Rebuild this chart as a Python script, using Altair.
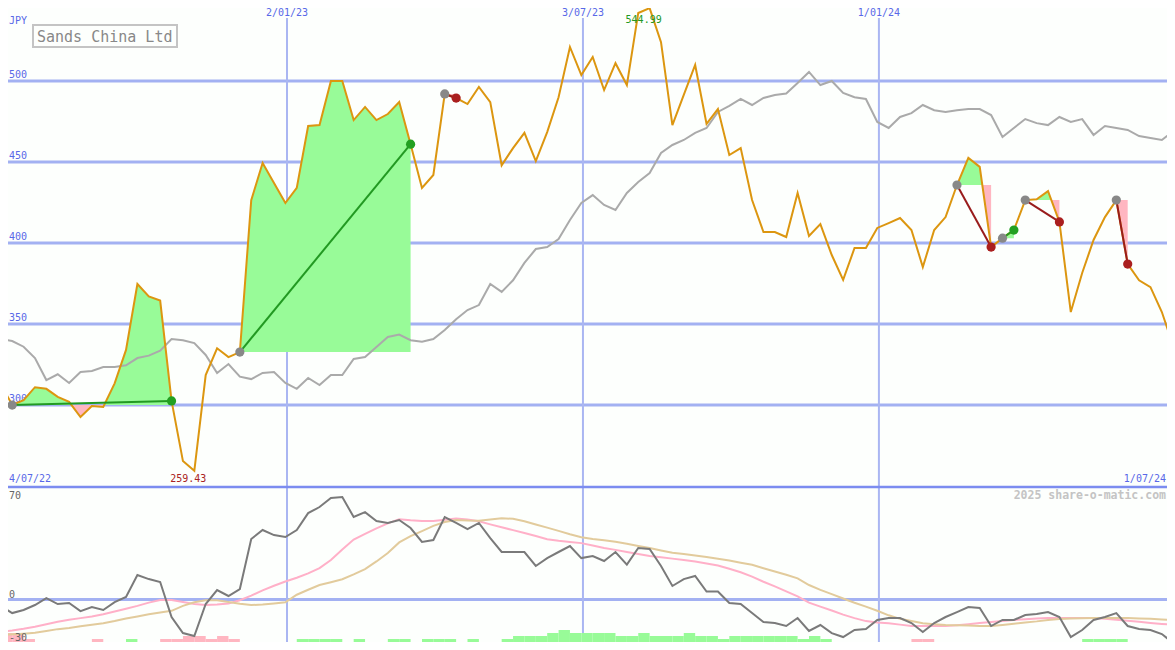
import altair as alt
import pandas as pd

# ---------------- data (weekly) ----------------
first_week = "2022-07-10"

price = [313, 300, 303, 311, 310, 305, 302, 292.6, 299.4, 298.8,
         313.4, 334, 374.7, 367, 364.5, 302.5, 265.4, 259.43, 318.5, 335,
         329.6, 332.7, 426.5, 449.4, 437, 424.7, 434, 472.2, 472.8, 500,
         500, 475.9, 484, 475.9, 479.6, 487, 461, 434, 442, 492,
         489.5, 485.8, 496.3, 487, 448, 458.6, 468, 450.6, 468.5, 490,
         521, 503.7, 514.8, 494.4, 511, 497.5, 542, 544.99, 524, 472.8,
         491.4, 509.9, 473.5, 482.7, 454.3, 458.6, 426.5, 406.8, 406.8, 403.7,
         430.9, 404.3, 411.7, 392.6, 377.2, 396.9, 396.9, 409.3, 412.3, 415.4,
         408, 385.2, 408, 416, 435.8, 452.5, 447, 397.5, 403, 408,
         426.5, 427, 432, 413, 357.4, 381.5, 401.9, 416, 426.5, 387,
         377, 372.8, 357.4, 336.4]

moving_avg = [340.7, 339.5, 336, 329, 315.4, 319, 313.6, 320.4, 321, 323.5,
              323.5, 324.5, 329, 330.5, 333.5, 340.7, 340, 338.2, 330.9, 319.8,
              325.3, 317.5, 316, 319.8, 320.4, 313.6, 310, 316.7, 312.3, 318.5,
              318.5, 328.4, 329.6, 335.8, 342, 343.5, 340, 339, 340.7, 346.3,
              353, 358.6, 361.7, 374.7, 369.8, 377, 387.7, 396.3, 397.5, 402.5,
              414.2, 424.7, 429.6, 423.5, 420.4, 430.9, 437.7, 443.2, 455.6, 460.5,
              463.6, 468, 471, 480.9, 484.6, 488.9, 485.2, 489.5, 491.4, 492.3,
              498.8, 505.6, 497.5, 500, 492.6, 490, 488.9, 474.7, 471, 477.8,
              480.2, 485.2, 482, 480.9, 482, 482.7, 482.7, 479, 465.4, 471,
              476.5, 474, 472.8, 477.8, 474.7, 476.5, 466.7, 472.2, 471, 469.8,
              466, 464.8, 463.6, 469]

momentum = [-4.6, -9.6, -7.4, -3.9, 1, -3.2, -2.5, -8.2, -5.3, -7.4,
            -1.8, 1.8, 17.4, 14.5, 12.4, -12.4, -23.8, -25.9, -3.2, 6.7,
            2.5, 7.4, 42.9, 49.3, 45.7, 44.3, 49.3, 61.3, 65.6, 72,
            72.7, 58.5, 62, 55.7, 54.3, 56.4, 50.7, 40.8, 42.2, 58.5,
            54.3, 50, 54.3, 43.6, 33.7, 33.7, 33.7, 23.8, 29.4, 33.7,
            37.9, 29.4, 30.8, 27.3, 33.7, 24.8, 36.5, 35.8, 23.8, 9.6,
            14.5, 16.7, 5.7, 5.7, -2.5, -3.2, -9.6, -16, -16.7, -18.8,
            -13.1, -22.3, -18.1, -23.8, -26.6, -21.6, -20.9, -14.5, -13.1, -13.1,
            -16.7, -23, -16.7, -12.4, -8.9, -5.3, -6, -18.8, -14.5, -14.5,
            -11, -10.3, -8.9, -12.4, -26.6, -21.6, -14.5, -12.4, -9.6, -18.8,
            -20.9, -21.6, -24.5, -30.9]

signal_fast = [-23, -22, -20.8, -19.3, -17.5, -15.8, -14.3, -13.2, -12, -10.5,
               -8.5, -6.5, -4.5, -2.2, -0.4, -0.4, -1.8, -3.2, -3.9, -3.6,
               -2.8, -0.5, 2.8, 6.5, 9.8, 12.8, 15.4, 18.5, 22.3, 28,
               35.5, 42.5, 46.5, 50.5, 54, 57, 56.2, 55.7, 55.7, 56.5,
               57.5, 56.8, 55.5, 53.3, 51.2, 49.2, 47.2, 45, 42.8, 41.6,
               40.8, 40, 38.3, 36.6, 35.2, 33.7, 32.3, 30.9, 30, 29,
               28, 27, 25.6, 24.1, 21.8, 19.3, 16.2, 12.6, 9.3, 5.8,
               2.3, -2.2, -5, -7.8, -10.7, -13.2, -15.3, -16.3, -16.8, -17.8,
               -18.7, -18.8, -18.8, -18.8, -18.2, -17.5, -16.7, -16, -15.2, -14.5,
               -14, -13.5, -13.1, -13.1, -13.1, -13.1, -13.1, -13.6, -14.3, -15,
               -15.8, -16.6, -17.3, -18]

signal_slow = [-25.2, -24.7, -24.2, -23.6, -22.3, -21, -20.2, -19, -17.9, -16.8,
               -15.3, -13.5, -12, -10.5, -9.2, -8, -4.5, -2, -0.5, -0.6,
               -1.8, -3, -3.9, -3.5, -2.8, -2, 3.4, 6.9, 10.3, 12.3,
               14.4, 17.8, 21.6, 27, 33, 40.5, 45, 48.5, 52.2, 55,
               56.4, 56, 55.8, 56.8, 57.7, 57.2, 55.5, 53.2, 51, 48.7,
               46.3, 44.2, 43, 42, 40.9, 39.5, 38, 36.5, 34.8, 33.1,
               32.2, 31.3, 30.2, 28.9, 27.7, 26.1, 24.6, 22.2, 19.9, 17.6,
               15, 10.3, 6.8, 3.8, 0.7, -2.3, -5, -8, -11.2, -13.7,
               -15.3, -16.8, -17.5, -18.1, -18.3, -18.5, -18.7, -18.8, -18, -17.2,
               -16.3, -15.5, -14.5, -13.8, -13.5, -13.2, -13.1, -13.1, -13.1, -13.1,
               -13.4, -13.7, -14.1, -14.5]

# signed strength of the weekly signal bars (+ green, - pink)
signal_bars = [-3, -3, -1, 0, 0, 0, 0, 0, -1, 0,
               0, 1, 0, 0, -1, -1, -2, -2, -1, -2,
               -1, 0, 0, 0, 0, 0, 1, 1, 1, 1,
               0, 1, 0, 0, 1, 1, 0, 1, 1, 1,
               0, 1, 0, 0, 1, 2, 2, 2, 3, 4,
               3, 3, 3, 3, 2, 2, 3, 2, 2, 2,
               3, 2, 2, 1, 2, 2, 2, 2, 2, 2,
               1, 2, 1, 0, 0, 0, 0, 0, 0, 0,
               -1, -1, 0, 0, 0, 0, 0, 0, 0, 0,
               0, 0, 0, 0, 0, 1, 1, 1, 1, 0,
               0, 0, 0, 0]

entry_week = [1, 21, 39, 84, 88, 90, 98]
exit_week = [15, 36, 40, 87, 89, 93, 99]

price_ticks = [300, 350, 400, 450, 500]
date_ticks = ["2023-01-02", "2023-07-03", "2024-01-01"]
date_tick_labels = ["2/01/23", "3/07/23", "1/01/24"]
first_label, last_label = "4/07/22", "1/07/24"
title = "Sands China Ltd"
currency = "JPY"
credit = "2025 share-o-matic.com"

# ---------------- layout / style ----------------
# One layered 1175x650 plot; autosize "none" + negative padding cancels the
# page's 8px body margin so the chart lines up with the window pixel for pixel.
W, H = 1175, 650
SPLIT = 487          # boundary between price panel and indicator panel
MARGIN = 8
VISIBLE_BOTTOM = H - MARGIN
VISIBLE_RIGHT = W - MARGIN

BG = "#fdfffd"
GRID = "#a3b1f2"
VGRID = "#aab6f2"
SEP = "#7c8cf0"
LBL = "#5868e8"
MONO = "DejaVu Sans Mono"
PRICE_C = "#dc9610"
MA_C = "#aaaaaa"
GREEN_FILL = "#98fb98"
PINK_FILL = "#ffb6c1"
WIN_LINE, LOSS_LINE = "#229922", "#991c1c"
WIN_DOT, LOSS_DOT = "#22a022", "#aa1f1f"

fmt = "%Y-%m-%dT%H:%M:%S"
week0 = pd.Timestamp(first_week)
dates = [week0 + pd.Timedelta(days=7 * i) for i in range(len(price))]
ds = [d.strftime(fmt) for d in dates]

x_scale = alt.Scale(domain=[alt.DateTime(year=2022, month=7, date=9, hours=12),
                            alt.DateTime(year=2024, month=7, date=1, hours=2)])
y_top = alt.Scale(domain=[249.4, 550], range=[SPLIT, 0], nice=False, zero=False)
y_bot = alt.Scale(domain=[-35.8, 79.8], range=[H, SPLIT], nice=False, zero=False)
y_bar = alt.Scale(domain=[0, 10], range=[VISIBLE_BOTTOM, VISIBLE_BOTTOM - 30], nice=False, zero=False)


def X(field="date"):
    return alt.X(f"{field}:T", scale=x_scale, axis=None)


def YT(field):
    return alt.Y(f"{field}:Q", scale=y_top, axis=None)


def YB(field):
    return alt.Y(f"{field}:Q", scale=y_bot, axis=None)


main = pd.DataFrame({"date": ds, "price": price, "ma": moving_avg, "mom": momentum,
                     "fast": signal_fast, "slow": signal_slow})

# trade fills (with crossing points so green/pink split cleanly)
rows = []
for t, (a, b) in enumerate(zip(entry_week, exit_week)):
    base = price[a]
    for k in range(a, b + 1):
        rows.append({"date": ds[k], "p": price[k], "base": base, "trade": t})
        if k < b:
            d1, d2 = price[k] - base, price[k + 1] - base
            if d1 * d2 < 0:
                f = d1 / (d1 - d2)
                dt = dates[k] + pd.Timedelta(days=7 * f)
                rows.append({"date": dt.strftime(fmt), "p": base, "base": base, "trade": t})
fill = pd.DataFrame(rows)
fill["hi"] = fill[["p", "base"]].max(axis=1)
fill["lo"] = fill[["p", "base"]].min(axis=1)

trows = []
for t, (a, b) in enumerate(zip(entry_week, exit_week)):
    res = "win" if price[b] > price[a] else "loss"
    trows.append({"date": ds[a], "v": price[a], "trade": t, "res": res, "role": "entry"})
    trows.append({"date": ds[b], "v": price[b], "trade": t, "res": res, "role": "exit"})
trades = pd.DataFrame(trows)
win_tr = trades[trades["res"] == "win"]
loss_tr = trades[trades["res"] == "loss"]

kmax = price.index(max(price))
kmin = price.index(min(price))

# ---------------- price panel ----------------
hgrid = alt.Chart(pd.DataFrame({"v": price_ticks})).mark_rule(
    color=GRID, strokeWidth=3).encode(y=YT("v"))
hlabels = alt.Chart(pd.DataFrame({"v": price_ticks, "t": [str(v) for v in price_ticks]})).mark_text(
    align="left", baseline="alphabetic", dy=-3, font=MONO, fontSize=10, color=LBL
).encode(x=alt.value(MARGIN + 1), y=YT("v"), text="t:N")

vdf = pd.DataFrame({"date": [d + "T00:00:00" for d in date_ticks], "t": date_tick_labels})
vrules = alt.Chart(vdf).mark_rule(color=VGRID, strokeWidth=2).encode(
    x=X(), y=alt.value(18), y2=alt.value(H))
vlabels = alt.Chart(vdf).mark_text(
    align="center", baseline="top", font=MONO, fontSize=10, color=LBL
).encode(x=X(), y=alt.value(MARGIN), text="t:N")

green_fill = alt.Chart(fill).mark_area(color=GREEN_FILL, opacity=1).encode(
    x=X(), y=YT("hi"), y2="base:Q", detail="trade:N")
pink_fill = alt.Chart(fill).mark_area(color=PINK_FILL, opacity=1).encode(
    x=X(), y=YT("lo"), y2="base:Q", detail="trade:N")

ma_line = alt.Chart(main).mark_line(color=MA_C, strokeWidth=2).encode(x=X(), y=YT("ma"))
price_line = alt.Chart(main).mark_line(color=PRICE_C, strokeWidth=2).encode(x=X(), y=YT("price"))

win_lines = alt.Chart(win_tr).mark_line(strokeWidth=2, color=WIN_LINE).encode(
    x=X(), y=YT("v"), detail="trade:N")
loss_lines = alt.Chart(loss_tr).mark_line(strokeWidth=2, color=LOSS_LINE).encode(
    x=X(), y=YT("v"), detail="trade:N")
entry_dots = alt.Chart(trades[trades["role"] == "entry"]).mark_circle(
    size=85, color="#888888", opacity=1).encode(x=X(), y=YT("v"))
win_dots = alt.Chart(win_tr[win_tr["role"] == "exit"]).mark_circle(
    size=85, color=WIN_DOT, opacity=1).encode(x=X(), y=YT("v"))
loss_dots = alt.Chart(loss_tr[loss_tr["role"] == "exit"]).mark_circle(
    size=85, color=LOSS_DOT, opacity=1).encode(x=X(), y=YT("v"))

max_lbl = alt.Chart(pd.DataFrame({"date": [ds[kmax]], "t": [f"{price[kmax]:.2f}"]})).mark_text(
    align="center", baseline="middle", dx=-6, font=MONO, fontSize=10, color="#229922"
).encode(x=X(), y=alt.value(20), text="t:N")
min_lbl = alt.Chart(pd.DataFrame({"date": [ds[kmin]], "t": [f"{price[kmin]:.2f}"]})).mark_text(
    align="center", baseline="middle", dx=-6, font=MONO, fontSize=10, color="#aa2222"
).encode(x=X(), y=alt.value(479), text="t:N")

one = pd.DataFrame({"t": [title]})
title_box = alt.Chart(one).mark_rect(fill=BG, stroke="#c4c4c4", strokeWidth=2).encode(
    x=alt.value(33), x2=alt.value(177), y=alt.value(25), y2=alt.value(47))
title_txt = alt.Chart(one).mark_text(
    align="left", baseline="middle", font=MONO, fontSize=15, color="#888888"
).encode(x=alt.value(37), y=alt.value(36.5), text="t:N")

jpy = alt.Chart(pd.DataFrame({"t": [currency]})).mark_text(
    align="left", baseline="middle", font=MONO, fontSize=10, color=LBL
).encode(x=alt.value(MARGIN + 1), y=alt.value(21), text="t:N")
first_lbl = alt.Chart(pd.DataFrame({"t": [first_label]})).mark_text(
    align="left", baseline="middle", font=MONO, fontSize=10, color=LBL
).encode(x=alt.value(MARGIN + 1), y=alt.value(479), text="t:N")
last_lbl = alt.Chart(pd.DataFrame({"t": [last_label]})).mark_text(
    align="right", baseline="middle", font=MONO, fontSize=10, color=LBL
).encode(x=alt.value(VISIBLE_RIGHT - 1), y=alt.value(479), text="t:N")

# ---------------- indicator panel ----------------
bars = pd.DataFrame({
    "date": ds,
    "date2": [(d + pd.Timedelta(days=7)).strftime(fmt) for d in dates],
    "lvl": [abs(v) for v in signal_bars],
    "zero": [0] * len(signal_bars),
    "up": [v > 0 for v in signal_bars],
})
up_bars = bars[(bars["lvl"] > 0) & bars["up"]]
down_bars = bars[(bars["lvl"] > 0) & ~bars["up"]]

sep = alt.Chart(pd.DataFrame({"t": [0]})).mark_rule(color=SEP, strokeWidth=2.5).encode(
    y=alt.value(SPLIT))
zero_rule = alt.Chart(pd.DataFrame({"v": [0]})).mark_rule(color=GRID, strokeWidth=3).encode(
    y=YB("v"))
up_rect = alt.Chart(up_bars).mark_rect(color=GREEN_FILL, opacity=1).encode(
    x=X(), x2="date2:T", y=alt.Y("lvl:Q", scale=y_bar, axis=None), y2="zero:Q")
down_rect = alt.Chart(down_bars).mark_rect(color=PINK_FILL, opacity=1).encode(
    x=X(), x2="date2:T", y=alt.Y("lvl:Q", scale=y_bar, axis=None), y2="zero:Q")
fast_line = alt.Chart(main).mark_line(color="#ffb0c8", strokeWidth=2).encode(x=X(), y=YB("fast"))
slow_line = alt.Chart(main).mark_line(color="#e2cb9c", strokeWidth=2).encode(x=X(), y=YB("slow"))
mom_line = alt.Chart(main).mark_line(color="#7a7a7a", strokeWidth=2).encode(x=X(), y=YB("mom"))

mlab_a = alt.Chart(pd.DataFrame({"v": [70, 0], "t": ["70", "0"]})).mark_text(
    align="left", baseline="alphabetic", dy=-2, font=MONO, fontSize=10, color="#666666"
).encode(x=alt.value(MARGIN + 1), y=YB("v"), text="t:N")
mlab_b = alt.Chart(pd.DataFrame({"v": [-30], "t": ["-30"]})).mark_text(
    align="left", baseline="alphabetic", dy=-1, font=MONO, fontSize=10, color="#666666"
).encode(x=alt.value(MARGIN + 1), y=YB("v"), text="t:N")
credit_txt = alt.Chart(pd.DataFrame({"t": [credit]})).mark_text(
    align="right", baseline="middle", font=MONO, fontSize=11.5, fontWeight="bold", color="#c4c4c4"
).encode(x=alt.value(VISIBLE_RIGHT - 1), y=alt.value(SPLIT + 9), text="t:N")

chart = alt.layer(
    hgrid, hlabels, zero_rule, vrules, vlabels, green_fill, pink_fill, ma_line, price_line,
    win_lines, loss_lines, entry_dots, win_dots, loss_dots, max_lbl, min_lbl,
    title_box, title_txt, jpy, first_lbl, last_lbl,
    up_rect, down_rect, fast_line, slow_line, mom_line, mlab_a, mlab_b, credit_txt, sep
).resolve_scale(y="independent").properties(
    width=W, height=H,
    autosize=alt.AutoSizeParams(type="none"),
    padding={"left": -MARGIN, "top": -MARGIN, "right": -MARGIN, "bottom": -MARGIN},
    background=BG,
).configure_view(stroke=None)

chart.save("out.html", embed_options={"renderer": "svg", "actions": False})
